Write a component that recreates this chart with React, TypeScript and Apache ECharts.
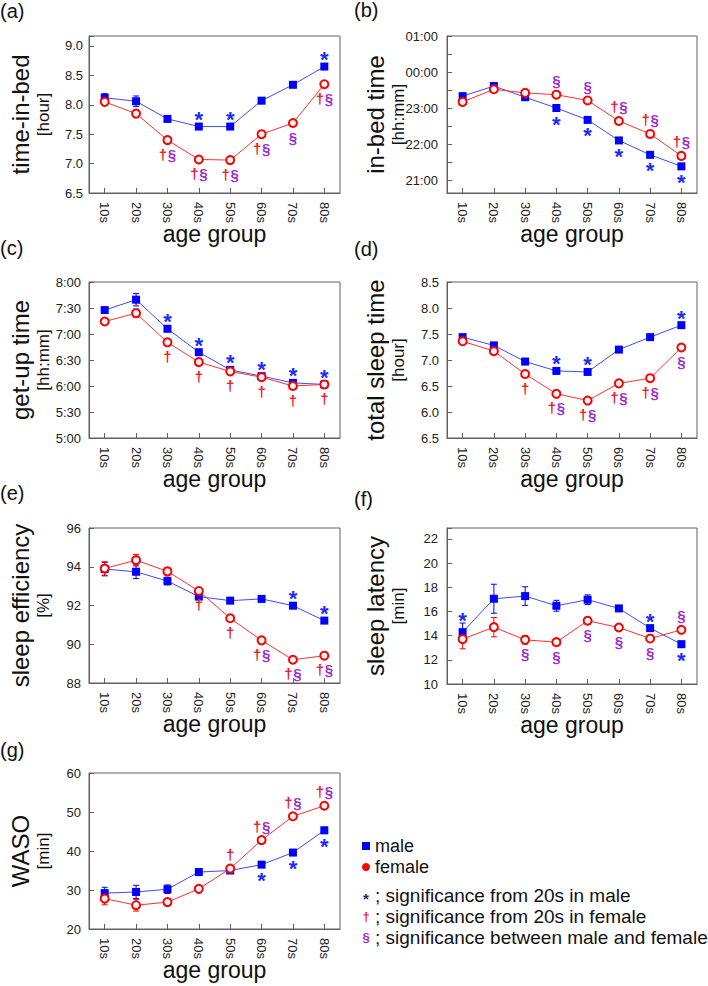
import React, { useEffect, useRef } from 'react';
import * as echarts from 'echarts';

const AGE_GROUPS = ['10s', '20s', '30s', '40s', '50s', '60s', '70s', '80s'];

// (a) time-in-bed [hour]
const TIB_MALE = [8.12, 8.06, 7.76, 7.63, 7.63, 8.07, 8.34, 8.65];
const TIB_MALE_SE = [0.07, 0.09, 0.04, 0.03, 0.03, 0.03, 0.03, 0.04];
const TIB_FEMALE = [8.05, 7.85, 7.4, 7.07, 7.06, 7.5, 7.69, 8.35];
const TIB_FEMALE_SE = [0.06, 0.06, 0.03, 0.02, 0.02, 0.02, 0.02, 0.03];
const TIB_MALE_SIG = ['', '', '', '^*', '^*', '', '', '^*'];
const TIB_FEMALE_SIG = ['', '', 'v†§', 'v†§', 'v†§', 'v†§', 'v§', 'v†§'];

// (b) in-bed time [hours, 24 = 00:00]
const IBT_MALE = [23.33, 23.61, 23.3, 23.0, 22.67, 22.1, 21.7, 21.38];
const IBT_MALE_SE = [0.05, 0.08, 0.04, 0.03, 0.03, 0.02, 0.02, 0.03];
const IBT_FEMALE = [23.17, 23.52, 23.42, 23.37, 23.21, 22.64, 22.28, 21.67];
const IBT_FEMALE_SE = [0.04, 0.06, 0.03, 0.02, 0.02, 0.02, 0.02, 0.03];
const IBT_MALE_SIG = ['', '', '', 'v*', 'v*', 'v*', 'v*', 'v*'];
const IBT_FEMALE_SIG = ['', '', '', '^§', '^§', '^†§', '^†§', '^†§'];

// (c) get-up time [hours]
const GUT_MALE = [7.46, 7.66, 7.1, 6.65, 6.31, 6.19, 6.06, 6.03];
const GUT_MALE_SE = [0.05, 0.12, 0.05, 0.03, 0.02, 0.02, 0.02, 0.02];
const GUT_FEMALE = [7.24, 7.4, 6.84, 6.46, 6.28, 6.17, 6.0, 6.03];
const GUT_FEMALE_SE = [0.05, 0.08, 0.03, 0.02, 0.02, 0.02, 0.02, 0.02];
const GUT_MALE_SIG = ['', '', '^*', '^*', '^*', '^*', '^*', '^*'];
const GUT_FEMALE_SIG = ['', '', 'v†', 'v†', 'v†', 'v†', 'v†', 'v†'];

// (d) total sleep time [hour]
const TST_MALE = [7.44, 7.28, 6.97, 6.79, 6.77, 7.2, 7.44, 7.67];
const TST_MALE_SE = [0.04, 0.06, 0.03, 0.02, 0.02, 0.02, 0.02, 0.03];
const TST_FEMALE = [7.36, 7.17, 6.73, 6.35, 6.22, 6.55, 6.65, 7.24];
const TST_FEMALE_SE = [0.04, 0.05, 0.03, 0.02, 0.02, 0.02, 0.02, 0.03];
const TST_MALE_SIG = ['', '', '', '^*', '^*', '', '', '^*'];
const TST_FEMALE_SIG = ['', '', 'v†', 'v†§', 'v†§', 'v†§', 'v†§', 'v§'];

// (e) sleep efficiency [%]
const SEF_MALE = [93.88, 93.74, 93.26, 92.46, 92.25, 92.34, 91.99, 91.22];
const SEF_MALE_SE = [0.35, 0.35, 0.2, 0.12, 0.1, 0.08, 0.08, 0.1];
const SEF_FEMALE = [93.91, 94.34, 93.76, 92.75, 91.34, 90.2, 89.2, 89.41];
const SEF_FEMALE_SE = [0.35, 0.3, 0.2, 0.12, 0.1, 0.08, 0.08, 0.08];
const SEF_MALE_SIG = ['', '', '', '', '', '', '^*', '^*'];
const SEF_FEMALE_SIG = ['', '', '', 'v†', 'v†', 'v†§', 'v†§', 'v†§'];

// (f) sleep latency [min]
const SL_MALE = [14.29, 17.05, 17.27, 16.47, 16.97, 16.25, 14.62, 13.29];
const SL_MALE_SE = [0.75, 1.2, 0.77, 0.45, 0.4, 0.2, 0.2, 0.25];
const SL_FEMALE = [13.71, 14.7, 13.65, 13.46, 15.23, 14.67, 13.76, 14.48];
const SL_FEMALE_SE = [0.8, 0.8, 0.35, 0.2, 0.3, 0.15, 0.15, 0.2];
const SL_MALE_SIG = ['^^*', '', '', '', '', '', '^*', 'v*'];
const SL_FEMALE_SIG = ['', '', 'v§', 'v§', 'v§', 'v§', 'v§', '^§'];

// (g) WASO [min]
const WASO_MALE = [29.2, 29.5, 30.2, 34.6, 35.0, 36.5, 39.6, 45.3];
const WASO_MALE_SE = [1.5, 1.7, 1.1, 0.9, 0.6, 0.5, 0.6, 0.8];
const WASO_FEMALE = [27.8, 26.1, 26.9, 30.3, 35.5, 42.8, 48.9, 51.6];
const WASO_FEMALE_SE = [1.6, 1.5, 0.9, 0.6, 0.6, 0.6, 0.6, 0.7];
const WASO_MALE_SIG = ['', '', '', '', '', 'v*', 'v*', 'v*'];
const WASO_FEMALE_SIG = ['', '', '', '', '^†', '^†§', '^†§', '^†§'];

const LEGEND_LINES = [
  { mark: '*', text: '; significance from 20s in male' },
  { mark: '†', text: '; significance from 20s in female' },
  { mark: '§', text: '; significance between male and female' },
];

const FONT = '"Liberation Sans", Arial, Helvetica, sans-serif';
const MALE_COLOR = '#0000ff';
const MALE_LINE = '#3d4bff';
const FEMALE_COLOR = '#ff0000';
const FEMALE_LINE = '#ff3030';
const STAR_COLOR = '#1a2cff';
const DAGGER_COLOR = '#f01428';
const SECTION_COLOR = '#a030d0';
const AXIS_COLOR = '#606060';

const pad = (n: number) => (n < 10 ? '0' + n : String(n));
const onStep = (v: number, step: number) => Math.abs(v / step - Math.round(v / step)) < 1e-6;

const PANELS: any[] = [
  {
    tag: '(a)', tagX: 0, tagY: 1, left: 89, top: 36, width: 251, height: 157,
    name: 'time-in-bed', unit: '[hour]', min: 6.5, max: 9.17, interval: 0.5, labelMargin: 6,
    fmt: (v: number) => (onStep(v, 0.5) ? v.toFixed(1) : ''),
    male: TIB_MALE, maleSE: TIB_MALE_SE, female: TIB_FEMALE, femaleSE: TIB_FEMALE_SE,
    maleSig: TIB_MALE_SIG, femaleSig: TIB_FEMALE_SIG,
  },
  {
    tag: '(b)', tagX: 354, tagY: 0, left: 447, top: 36, width: 250, height: 157,
    name: 'in-bed time', unit: '[hh:mm]', min: 20.64, max: 25, splitNumber: 8, labelMargin: 9,
    fmt: (v: number) => (onStep(v, 1) ? pad(((Math.round(v) % 24) + 24) % 24) + ':00' : ''),
    male: IBT_MALE, maleSE: IBT_MALE_SE, female: IBT_FEMALE, femaleSE: IBT_FEMALE_SE,
    maleSig: IBT_MALE_SIG, femaleSig: IBT_FEMALE_SIG,
  },
  {
    tag: '(c)', tagX: 0, tagY: 238, left: 89, top: 282, width: 251, height: 156,
    name: 'get-up time', unit: '[hh:mm]', min: 5, max: 8, interval: 0.5, labelMargin: 8,
    fmt: (v: number) => {
      const h = Math.floor(v + 1e-9);
      const m = Math.round((v - h) * 60);
      return h + ':' + pad(m);
    },
    male: GUT_MALE, maleSE: GUT_MALE_SE, female: GUT_FEMALE, femaleSE: GUT_FEMALE_SE,
    maleSig: GUT_MALE_SIG, femaleSig: GUT_FEMALE_SIG,
  },
  {
    tag: '(d)', tagX: 354, tagY: 239, left: 447, top: 282, width: 250, height: 156,
    name: 'total sleep time', unit: '[hour]', min: 5.5, max: 8.5, interval: 0.5, labelMargin: 8,
    fmt: (v: number) => (Math.abs(v - 5.5) < 1e-6 ? '6.5' : v.toFixed(1)),
    male: TST_MALE, maleSE: TST_MALE_SE, female: TST_FEMALE, femaleSE: TST_FEMALE_SE,
    maleSig: TST_MALE_SIG, femaleSig: TST_FEMALE_SIG,
  },
  {
    tag: '(e)', tagX: 0, tagY: 483, left: 89, top: 528, width: 251, height: 155,
    name: 'sleep efficiency', unit: '[%]', min: 88, max: 96, interval: 2, labelMargin: 8,
    fmt: (v: number) => String(v),
    male: SEF_MALE, maleSE: SEF_MALE_SE, female: SEF_FEMALE, femaleSE: SEF_FEMALE_SE,
    maleSig: SEF_MALE_SIG, femaleSig: SEF_FEMALE_SIG,
  },
  {
    tag: '(f)', tagX: 354, tagY: 489, left: 447, top: 528, width: 250, height: 156,
    name: 'sleep latency', unit: '[min]', min: 10, max: 22.9, interval: 2, labelMargin: 9,
    fmt: (v: number) => (onStep(v, 2) ? String(v) : ''),
    male: SL_MALE, maleSE: SL_MALE_SE, female: SL_FEMALE, femaleSE: SL_FEMALE_SE,
    maleSig: SL_MALE_SIG, femaleSig: SL_FEMALE_SIG,
  },
  {
    tag: '(g)', tagX: 0, tagY: 740, left: 89, top: 773, width: 251, height: 156,
    name: 'WASO', unit: '[min]', min: 20, max: 60, interval: 10, labelMargin: 8,
    fmt: (v: number) => String(v),
    male: WASO_MALE, maleSE: WASO_MALE_SE, female: WASO_FEMALE, femaleSE: WASO_FEMALE_SE,
    maleSig: WASO_MALE_SIG, femaleSig: WASO_FEMALE_SIG,
  },
];

const MARK_STYLE: Record<string, any> = {
  '*': { fill: STAR_COLOR, fontSize: 22, fontWeight: 'bold', dy: 5 },
  '†': { fill: DAGGER_COLOR, fontSize: 15, fontWeight: 'bold', dy: 0 },
  '§': { fill: SECTION_COLOR, fontSize: 15, fontWeight: 'bold', dy: 0 },
};

function sigOffset(code: string) {
  const above = code[0] === '^';
  const extra = code[1] === '^' ? 5 : 0;
  const isStar = code.indexOf('*') >= 0;
  if (isStar) return above ? -12 - extra : 11;
  return above ? -14 - extra : 14;
}

function errorSeries(i: number, values: number[], se: number[], color: string) {
  return {
    type: 'custom',
    xAxisIndex: i,
    yAxisIndex: i,
    z: 2,
    silent: true,
    data: values.map((v, k) => [k, v - se[k], v + se[k]]),
    encode: { x: 0, y: [1, 2] },
    renderItem: (_params: any, api: any) => {
      const k = api.value(0);
      const lo = api.coord([k, api.value(1)]);
      const hi = api.coord([k, api.value(2)]);
      const w = 3;
      const st = { stroke: color, lineWidth: 1 };
      return {
        type: 'group',
        children: [
          { type: 'line', shape: { x1: lo[0], y1: lo[1], x2: hi[0], y2: hi[1] }, style: st },
          { type: 'line', shape: { x1: lo[0] - w, y1: lo[1], x2: lo[0] + w, y2: lo[1] }, style: st },
          { type: 'line', shape: { x1: hi[0] - w, y1: hi[1], x2: hi[0] + w, y2: hi[1] }, style: st },
        ],
      };
    },
  };
}

function sigSeries(i: number, values: number[], sig: string[]) {
  const items: { k: number; code: string }[] = [];
  sig.forEach((code, k) => {
    if (code) items.push({ k, code });
  });
  return {
    type: 'custom',
    xAxisIndex: i,
    yAxisIndex: i,
    z: 5,
    silent: true,
    data: items.map((it) => [it.k, values[it.k]]),
    encode: { x: 0, y: 1 },
    renderItem: (params: any, api: any) => {
      const it = items[params.dataIndex];
      const pt = api.coord([api.value(0), api.value(1)]);
      const cy = pt[1] + sigOffset(it.code);
      const chars = Array.from(it.code.replace(/[\^v]/g, ''));
      const step = 9;
      const x0 = pt[0] - ((chars.length - 1) * step) / 2;
      return {
        type: 'group',
        children: chars.map((ch, j) => {
          const ms = MARK_STYLE[ch];
          return {
            type: 'text',
            x: x0 + j * step,
            y: cy + ms.dy,
            style: {
              text: ch, fill: ms.fill, fontSize: ms.fontSize, fontWeight: ms.fontWeight,
              fontFamily: FONT, align: 'center', verticalAlign: 'middle',
            },
          };
        }),
      };
    },
  };
}

function buildOption() {
  const grid: any[] = [];
  const xAxis: any[] = [];
  const yAxis: any[] = [];
  const series: any[] = [];
  const graphic: any[] = [];

  PANELS.forEach((p, i) => {
    grid.push({
      left: p.left, top: p.top, width: p.width, height: p.height,
      show: true, borderColor: AXIS_COLOR, borderWidth: 1, backgroundColor: 'transparent',
      containLabel: false, outerBoundsMode: 'none',
    });
    xAxis.push({
      type: 'category', gridIndex: i, data: AGE_GROUPS, boundaryGap: true,
      axisLine: { show: true, lineStyle: { color: AXIS_COLOR, width: 1 } },
      axisTick: { show: true, inside: true, alignWithLabel: true, length: 5, lineStyle: { color: AXIS_COLOR } },
      axisLabel: { rotate: -90, interval: 0, margin: 9, fontSize: 13, color: '#222', fontFamily: FONT },
      splitLine: { show: false },
      name: 'age group', nameLocation: 'middle', nameGap: 29, nameMoveOverlap: false,
      nameTextStyle: { fontSize: 23, color: '#111', fontFamily: FONT },
    });
    const ya: any = {
      type: 'value', gridIndex: i, min: p.min, max: p.max, scale: true,
      axisLine: { show: true, lineStyle: { color: AXIS_COLOR, width: 1 } },
      axisTick: { show: true, inside: true, length: 5, lineStyle: { color: AXIS_COLOR } },
      axisLabel: {
        margin: p.labelMargin, fontSize: 13, color: '#222', fontFamily: FONT,
        formatter: p.fmt, showMinLabel: true, showMaxLabel: true,
      },
      splitLine: { show: false },
    };
    if (p.interval != null) ya.interval = p.interval;
    if (p.splitNumber != null) ya.splitNumber = p.splitNumber;
    yAxis.push(ya);

    series.push(errorSeries(i, p.male, p.maleSE, MALE_COLOR));
    series.push(errorSeries(i, p.female, p.femaleSE, FEMALE_COLOR));
    series.push({
      name: 'male', type: 'line', xAxisIndex: i, yAxisIndex: i, z: 3, data: p.male,
      symbol: 'rect', symbolSize: 8, showAllSymbol: true,
      itemStyle: { color: MALE_COLOR },
      lineStyle: { color: MALE_LINE, width: 1 },
    });
    series.push({
      name: 'female', type: 'line', xAxisIndex: i, yAxisIndex: i, z: 4, data: p.female,
      symbol: 'emptyCircle', symbolSize: 8, showAllSymbol: true,
      itemStyle: { color: FEMALE_COLOR, borderWidth: 1.3 },
      lineStyle: { color: FEMALE_LINE, width: 1 },
    });
    series.push(sigSeries(i, p.male, p.maleSig));
    series.push(sigSeries(i, p.female, p.femaleSig));

    const right = p.left > 300;
    const cy = p.top + p.height / 2;
    graphic.push({
      type: 'text', x: p.tagX, y: p.tagY,
      style: { text: p.tag, fontSize: 20, fill: '#111', fontFamily: FONT, verticalAlign: 'top' },
    });
    graphic.push({
      type: 'text', x: right ? 375 : 20, y: cy, rotation: Math.PI / 2,
      style: { text: p.name, fontSize: 24, fill: '#111', fontFamily: FONT, align: 'center', verticalAlign: 'middle' },
    });
    graphic.push({
      type: 'text', x: right ? 398 : 43, y: cy, rotation: Math.PI / 2,
      style: { text: p.unit, fontSize: 17, fill: '#111', fontFamily: FONT, align: 'center', verticalAlign: 'middle' },
    });
  });

  const markColors = [STAR_COLOR, DAGGER_COLOR, SECTION_COLOR];
  LEGEND_LINES.forEach((l, k) => {
    const y = 895 + k * 21;
    graphic.push({
      type: 'text', x: 366, y: k === 0 ? y + 3 : y,
      style: {
        text: l.mark, fontSize: k === 0 ? 15 : 13, fontWeight: 'bold',
        fill: k === 0 ? '#1a1a70' : markColors[k], fontFamily: FONT, align: 'center', verticalAlign: 'middle',
      },
    });
    graphic.push({
      type: 'text', x: 375, y,
      style: { text: l.text, fontSize: 19, fill: '#111', fontFamily: FONT, align: 'left', verticalAlign: 'middle' },
    });
  });

  const legendBase = {
    orient: 'horizontal', left: 362, itemWidth: 8, itemHeight: 8, itemGap: 0, padding: 0,
    selectedMode: false, textStyle: { fontSize: 18, color: '#111', fontFamily: FONT },
  };

  return {
    animation: false,
    backgroundColor: '#ffffff',
    textStyle: { fontFamily: FONT },
    legend: [
      { ...legendBase, top: 837, data: [{ name: 'male', icon: 'rect', itemStyle: { color: MALE_COLOR, borderWidth: 0 } }] },
      { ...legendBase, top: 858, data: [{ name: 'female', icon: 'circle', itemStyle: { color: FEMALE_COLOR, borderWidth: 0 } }] },
    ],
    grid,
    xAxis,
    yAxis,
    series,
    graphic,
  };
}

export default function App() {
  const ref = useRef<HTMLDivElement>(null);
  useEffect(() => {
    document.body.style.margin = '0';
    const chart = echarts.init(ref.current as HTMLDivElement, undefined, { renderer: 'svg' });
    chart.setOption(buildOption() as any);
    return () => chart.dispose();
  }, []);
  return <div ref={ref} style={{ width: 708, height: 986 }} />;
}
